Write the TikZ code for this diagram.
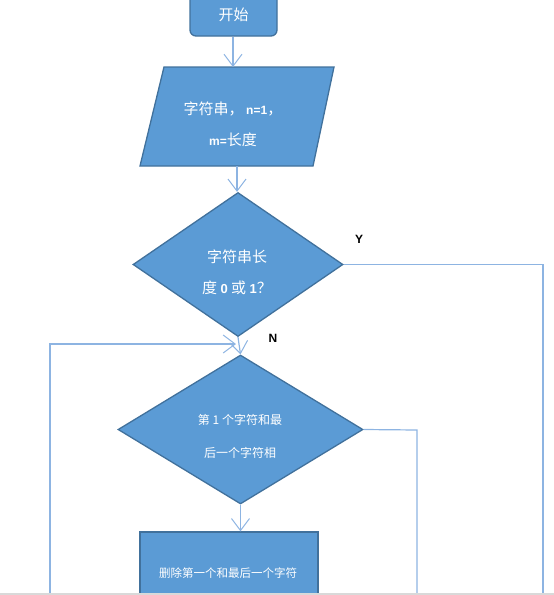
\documentclass[tikz,border=0pt]{standalone}
\usepackage{fontspec}
\setmainfont{Liberation Sans}
\newfontfamily\cjk{Noto Sans CJK SC}
\usetikzlibrary{arrows.meta,shapes.geometric}
\definecolor{boxfill}{RGB}{91,155,213}
\definecolor{boxedge}{RGB}{65,113,156}
\definecolor{linec}{RGB}{141,180,226}
\begin{document}
\begin{tikzpicture}[x=1pt,y=-1pt,
  shp/.style={draw=boxedge,fill=boxfill,line width=1.3pt},
  startbox/.style={shp,rounded corners=6pt,minimum width=87pt,minimum height=42pt,inner sep=0pt},
  decbox/.style={shp,diamond,inner sep=0pt},
  procbox/.style={shp,rectangle,minimum width=178pt,minimum height=80pt,inner sep=0pt},
  txt/.style={text=white,align=center,inner sep=0pt},
  conn/.style={draw=linec,line width=1.2pt},
  arr/.style={conn,-{Straight Barb[length=12pt,width=18pt,line width=1pt]}},
  lbl/.style={font=\fontsize{12}{14}\selectfont\bfseries,text=black,inner sep=0pt}]
\useasboundingbox (0,0) rectangle (554,595);
\begin{scope}
\clip (0,0) rectangle (554,593);
% start
\node[startbox,txt,font=\cjk\fontsize{15}{18}\selectfont] (start) at (233.5,15) {开始};
% parallelogram
\draw[shp] (164,67) -- (334,67) -- (313,166) -- (140,166) -- cycle;
\coordinate (partop) at (233,67);
\coordinate (parbot) at (237,166);
\node[txt,font=\cjk\fontsize{15}{31}\selectfont] (par) at (233,124)
  {字符串，\,{\fontspec{Liberation Sans}\bfseries\fontsize{12}{31}\selectfont n=1}，\\
   {\fontspec{Liberation Sans}\bfseries\fontsize{12}{31}\selectfont m=}长度};
% decision 1
\node[decbox,minimum width=210pt,minimum height=144pt] (d1) at (238,264.5) {};
\node[txt,font=\cjk\fontsize{15}{31}\selectfont] (d1t) at (237,272)
  {字符串长\\度 {\fontspec{Liberation Sans}\bfseries\fontsize{13}{31}\selectfont 0} 或 {\fontspec{Liberation Sans}\bfseries\fontsize{13}{31}\selectfont 1}？};
% decision 2
\node[decbox,minimum width=245pt,minimum height=149pt] (d2) at (240.5,429.5) {};
\node[txt,font=\cjk\fontsize{12}{33}\selectfont] (d2t) at (240,436)
  {第 1 个字符和最\\后一个字符相};
% process
\node[procbox] (proc) at (229,572) {};
\node[txt,font=\cjk\fontsize{11.5}{14}\selectfont] (proct) at (228,573) {删除第一个和最后一个字符};
% labels
\node[lbl] (ylab) at (359,239) {Y};
\node[lbl] (nlab) at (273,338) {N};
% connectors
\coordinate (yc1) at (543,264.5);
\coordinate (yc2) at (543,600);
\coordinate (rc1) at (417,430);
\coordinate (rc2) at (417,600);
\coordinate (lc1) at (50,600);
\coordinate (lc2) at (50,344);
\coordinate (lc3) at (236,344);
\draw[arr] (start.south -| partop) -- (partop);
\draw[arr] (parbot) -- (parbot |- d1.north);
\draw[arr] (d1.south) -- (d2.north);
\draw[arr] (lc1) -- (lc2) -- (lc3);
\draw[conn] (d1.east) -- (yc1) -- (yc2);
\draw[conn] (d2.east) -- (rc1) -- (rc2);
\draw[arr] (d2.south) -- (d2.south |- proc.north);
\end{scope}
\draw[black!15,line width=1.5pt] (0,594) -- (554,594);
\end{tikzpicture}
\end{document}
